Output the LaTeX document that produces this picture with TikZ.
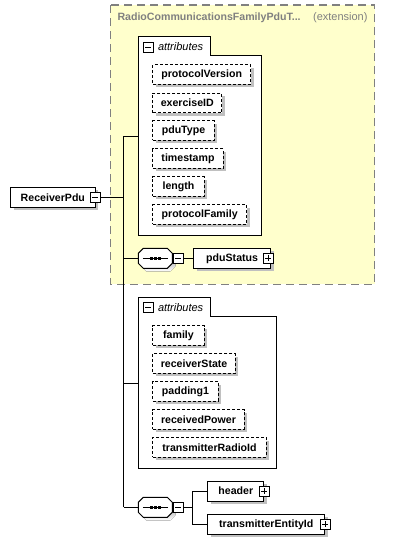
\documentclass[tikz,border=0pt]{standalone}
\usepackage{fontspec}
\setmainfont{Liberation Sans}
\usetikzlibrary{shadows,positioning}
\definecolor{extfill}{RGB}{255,255,204}
\definecolor{extline}{RGB}{128,128,128}
\definecolor{shade}{RGB}{192,192,192}
% sequence compositor: named node, octagon, shadow and glyph
\newcommand\seqbox[3]{%
  \node[inner sep=0pt,minimum width=34pt,minimum height=20pt] (#1) at (#2,#3) {};
  \begin{scope}[shift={(#2,#3)}]
    \fill[shade] (-14,-2) -- (-9,-7) -- (15,-7) -- (20,-2) -- (20,8) -- (15,13) -- (-9,13) -- (-14,8) -- cycle;
    \draw[fill=white] (-17,-5) -- (-12,-10) -- (12,-10) -- (17,-5) -- (17,5) -- (12,10) -- (-12,10) -- (-17,5) -- cycle;
    \draw (-12.5,0) -- (12.5,0);
    \foreach \d in {-4,0,4} \fill (\d-1.5,-1.5) rectangle (\d+1.5,1.5);
  \end{scope}}
\begin{document}
\begin{tikzpicture}[x=1pt,y=-1pt,line width=1pt,
  every node/.style={font=\fontsize{10.6}{12}\selectfont\bfseries},
  elem/.style={draw,fill=white,minimum height=20pt,inner xsep=8pt,general shadow={fill=shade,shadow xshift=3pt,shadow yshift=-3pt}},
  attr/.style={elem,dash pattern=on 3pt off 2pt,anchor=west,minimum height=19.5pt},
  minusbox/.style={draw,fill=white,minimum size=10pt,inner sep=0pt,line width=0.8pt,
    path picture={\draw[line width=0.8pt] ([xshift=2pt]path picture bounding box.west) -- ([xshift=-2pt]path picture bounding box.east);}},
  plusbox/.style={draw,fill=white,minimum size=10pt,inner sep=0pt,line width=0.8pt,
    path picture={\draw[line width=0.8pt] ([xshift=2pt]path picture bounding box.west) -- ([xshift=-2pt]path picture bounding box.east);
      \draw[line width=0.8pt] ([yshift=-2pt]path picture bounding box.north) -- ([yshift=2pt]path picture bounding box.south);}},
  tablabel/.style={anchor=west,inner sep=0pt,font=\fontsize{11}{13}\selectfont\itshape}]
\useasboundingbox (0,0) rectangle (417,544);

% extension
\draw[extline,fill=extfill,line width=1.2pt,dash pattern=on 8pt off 5pt] (110.3,5) rectangle (374.7,284.3);
\node[anchor=west,inner sep=0pt,text=extline] (extT) at (117,18) {RadioCommunicationsFamilyPduT...};
\node[anchor=east,inner sep=0pt,text=extline,font=\fontsize{11}{13}\selectfont] (extE) at (368,18) {(extension)};

% attributes of the base type
\draw[fill=white] (138.3,55.3) -- (138.3,36) -- (210,36) -- (210,55.3) -- (261.7,55.3) -- (261.7,235.7) -- (138.3,235.7) -- cycle;
\node[minusbox] (attAT) at (148,47.5) {};
\node[tablabel] (attAL) at (157.5,47) {attributes};
\coordinate (attA) at (138.3,136);
\foreach \n/\y/\w in {protocolVersion/74.7/97.7,exerciseID/102.8/67.7,pduType/130.7/61.4,timestamp/158.7/70.4,length/186.5/51.4,protocolFamily/214.5/93.7}
  \node[attr,minimum width=\w] (\n) at (152.3,\y) {\n};

% attributes of ReceiverPdu
\draw[fill=white] (138.3,316.3) -- (138.3,297.3) -- (210.3,297.3) -- (210.3,316.3) -- (276.3,316.3) -- (276.3,468.3) -- (138.3,468.3) -- cycle;
\node[minusbox] (attBT) at (148,307.7) {};
\node[tablabel] (attBL) at (157.5,307.5) {attributes};
\coordinate (attB) at (138.3,383.3);
\foreach \n/\y/\w in {family/335.3/51.4,receiverState/363.3/81.4,padding1/391.3/65.4,receivedPower/419.3/91.4,transmitterRadioId/447.3/113.4}
  \node[attr,minimum width=\w] (\n) at (152.3,\y) {\n};

% root and spine
\node[elem,minimum width=84.3pt] (root) at (52.85,197.3) {ReceiverPdu};
\node[minusbox] (rootT) at ([xshift=-0.5pt]root.east) {};
\coordinate (spA) at (123.7,136);
\coordinate (spB) at (123.7,507.3);
\draw (spA) -- (spB);
\draw (rootT.east) -- (rootT.east -| spA);
\draw (spA) -- (attA);
\draw (attB -| spA) -- (attB);

% sequence of the base type
\seqbox{seqA}{155.3}{258.3}
\node[minusbox,anchor=west] (seqAT) at (seqA.east) {};
\node[elem,anchor=west,minimum width=76.7pt] (pduStatus) at (193.3,258.3) {pduStatus\hspace{3pt}};
\node[plusbox] (pduStatusT) at ([xshift=-3pt]pduStatus.east) {};
\draw (seqA.west -| spA) -- (seqA.west);
\draw (seqAT.east) -- (pduStatus.west);

% sequence of ReceiverPdu
\seqbox{seqB}{155.3}{507.3}
\node[minusbox,anchor=west] (seqBT) at (seqB.east) {};
\coordinate (brB) at (192.3,507.3);
\node[elem,anchor=west,minimum width=56pt] (header) at (207.3,491.2) {header\hspace{3pt}};
\node[plusbox] (headerT) at (header.east) {};
\node[elem,anchor=west,minimum width=117pt] (transmitterEntityId) at (207.3,524.3) {transmitterEntityId\hspace{3pt}};
\node[plusbox] (transmitterEntityIdT) at (transmitterEntityId.east) {};
\draw (spB) -- (seqB.west);
\draw (seqBT.east) -- (brB);
\draw (header.west) -| (brB) |- (transmitterEntityId.west);
\end{tikzpicture}
\end{document}
